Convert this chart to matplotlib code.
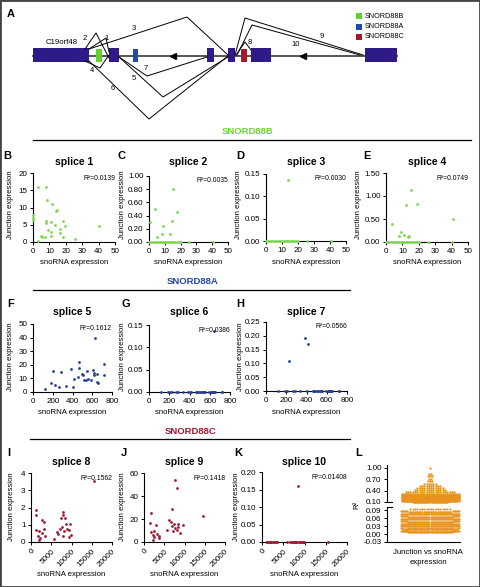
import matplotlib
matplotlib.use('Agg')
import matplotlib.pyplot as plt
from matplotlib.patches import Rectangle
import numpy as np

plt.rcParams['font.family'] = ['Liberation Sans', 'DejaVu Sans']
NARROW = ['Liberation Sans Narrow', 'Liberation Sans', 'DejaVu Sans']

W, H = 480, 587

# ---- panel A: gene model (figure pixel units) ----
exons = [(33, 89), (109, 119), (207, 214), (228, 235), (251, 271), (365, 397)]
exon_top, exon_bot = 48, 62
intron_y = 56
strand_arrows = [173, 303]
sno_names = ['SNORD88B', 'SNORD88A', 'SNORD88C']
sno_colors = ['#62d12b', '#1d4ab5', '#a3182c']
sno_spans = [(96, 102), (133, 138), (241, 247)]
junction_paths = [
    [(89, 49), (106, 38), (109, 52)],
    [(85, 49), (96, 33), (109, 58)],
    [(89, 49), (187, 17), (228, 55)],
    [(85, 61), (100, 68), (109, 55)],
    [(119, 57), (163, 97), (228, 57)],
    [(89, 61), (149, 119), (228, 56)],
    [(119, 57), (147, 76), (207, 57)],
    [(236, 55), (245, 42), (251, 50)],
    [(235, 55), (245, 18), (363, 55)],
    [(237, 55), (252, 25), (360, 55)],
]
junction_labels = ['1', '2', '3', '4', '5', '6', '7', '8', '9', '10']
junction_label_xy = [(107, 38), (85, 39), (134, 29), (92, 71), (134, 78),
                     (113, 88), (146, 68), (250, 43), (322, 37), (296, 44)]

# ---- SNORD88B (splice 1-4) ----
b_x = [0, 0, 0, 3.2, 8.2, 8.8, 11.6, 14.3, 14.7, 8.2, 8.2, 10.8, 13.3, 16.5,
       18.4, 19.4, 9.2, 10.8, 16.3, 4.7, 5.5, 7.6, 10.8, 18.2, 3.2, 25.5, 40.5]
b_y = [7.8, 7.0, 6.5, 16.0, 15.8, 12.2, 11.0, 8.9, 9.2, 6.2, 5.6, 5.9, 4.8, 3.8,
       6.1, 4.6, 3.4, 3.0, 2.6, 1.8, 1.5, 1.5, 1.6, 1.5, 0.3, 1.0, 4.6]
zero_x_88b = [0, 1.5, 3, 4.5, 5.5, 7, 8, 9, 10, 11, 12, 13, 14, 15, 16, 17.5,
              19, 20, 25.5, 40.5]
c_x = [0.6, 3.8, 4.9, 8.4, 9.0, 13.3, 14.3, 15.0, 18.0]
c_y = [0.30, 0.50, 0.08, 0.12, 0.24, 0.12, 0.32, 0.81, 0.46]
d_x = [14.0]
d_y = [0.137]
e_x = [3.5, 15.0, 12.0, 18.7, 40.7, 9.2, 8.1, 11.2, 13.6, 14.2]
e_y = [0.40, 1.12, 0.80, 0.83, 0.50, 0.22, 0.14, 0.15, 0.10, 0.13]

# ---- SNORD88A (splice 5-7) ----
snord88a_expr = [122, 183, 223, 206, 264, 284, 331, 382, 409, 416, 460, 470, 470,
                 493, 510, 517, 537, 544, 554, 588, 611, 621, 628, 645, 645, 655,
                 719, 719, 618]
splice5 = [2.2, 6.6, 5.4, 15.7, 3.4, 14.5, 4.2, 17.0, 3.7, 9.5, 11.0, 22.0, 17.6,
           13.2, 12.7, 9.0, 8.6, 15.7, 9.5, 8.6, 16.4, 12.7, 39.7, 13.2, 7.4, 6.6,
           12.3, 20.8, 14.2]
splice6 = [0, 0, 0, 0, 0, 0, 0, 0, 0, 0, 0, 0, 0, 0, 0, 0, 0, 0, 0, 0, 0, 0, 0,
           0.137, 0, 0, 0, 0, 0]
splice7 = [0, 0, 0.110, 0, 0, 0, 0, 0.192, 0, 0.170, 0, 0, 0, 0, 0, 0, 0, 0, 0, 0,
           0, 0, 0, 0, 0, 0, 0, 0, 0]

# ---- SNORD88C (splice 8-10) ----
snord88c_expr = [1240, 1160, 1240, 2070, 1650, 2230, 2640, 2810, 3310, 3310, 3470,
                 1980, 5790, 6530, 6780, 7190, 7360, 7600, 7850, 8020, 8020, 8430,
                 8600, 8840, 9260, 9420, 9670, 9840, 8180, 15450]
splice8 = [1.87, 1.55, 0.68, 0.66, 0.33, 0.23, 1.29, 0.52, 1.14, 0.75, 0.33, 0.10,
           0.19, 0.56, 0.48, 0.75, 1.39, 0.87, 1.72, 1.58, 0.37, 1.39, 1.04, 0.75,
           0.71, 0.27, 1.04, 0.43, 0.62, 3.52]
splice10 = [0] * 21 + [0.16] + [0] * 8
j_x = [1650, 1480, 1650, 2140, 2550, 2470, 2960, 3290, 3700, 3790, 2300, 5600, 6260,
       6670, 6830, 7000, 7080, 7410, 7650, 7650, 8230, 8310, 8480, 8890, 8070, 9550,
       14650]
j_y = [25.2, 16.5, 8.4, 6.4, 9.3, 4.1, 15.1, 7.2, 4.9, 3.5, 2.0, 10.7, 19.4, 17.1,
       29.0, 13.6, 9.3, 15.9, 12.2, 53.6, 47.0, 15.9, 13.0, 7.8, 10.7, 15.1, 22.9]

r2_values = ['0.0139', '0.0035', '0.0030', '0.0749', '0.1612', '0.0386', '0.0566',
             '0.1562', '0.1418', '0.01408']

# ---- panel L: R^2 of all junction vs snoRNA pairs, as stacked rows ----
upper_vals = [1.00, 0.83, 0.77, 0.71, 0.64, 0.58, 0.53, 0.47, 0.42, 0.36, 0.31,
              0.285, 0.26, 0.235, 0.21, 0.185, 0.16, 0.135, 0.11]
upper_counts = [1, 2, 3, 2, 3, 6, 10, 12, 14, 22, 30, 38, 42, 45, 48, 50, 52, 54, 56]
lower_vals = [0.096, 0.085, 0.076, 0.066, 0.057, 0.047, 0.038, 0.029, 0.020, 0.009]
lower_counts = [18, 55, 58, 58, 58, 58, 58, 58, 78, 80]

green, blue, red, orange = '#7fd650', '#263f8f', '#9c1c34', '#e8931e'

fig = plt.figure(figsize=(4.8, 5.87), dpi=100)


def fx(x):
    return x / W


def fy(y):
    return 1 - y / H


def px_axes(l, t, r, b):
    return fig.add_axes([l / W, 1 - b / H, (r - l) / W, (b - t) / H])


# background axes in pixel units for the diagram, headers and rules
bg = fig.add_axes([0, 0, 1, 1])
bg.set_xlim(0, W)
bg.set_ylim(H, 0)
bg.axis('off')

bg.plot([exons[0][0], exons[-1][1]], [intron_y, intron_y], color='#555555', lw=1.4, zorder=1)
bg.plot(strand_arrows, [intron_y] * len(strand_arrows), ls='none', marker='<',
        ms=4, color='black', zorder=2)
for path in junction_paths:
    xs, ys = zip(*path)
    bg.plot(xs, ys, color='black', lw=0.7, zorder=4)
for (x0, x1) in exons:
    bg.add_patch(Rectangle((x0, exon_top), x1 - x0, exon_bot - exon_top,
                           facecolor='#2e1a88', edgecolor='none', zorder=3))
for (x0, x1), col in zip(sno_spans, sno_colors):
    bg.add_patch(Rectangle((x0, exon_top + 1), x1 - x0, exon_bot - exon_top - 1,
                           facecolor=col, edgecolor='none', zorder=3))
for lab, (x, y) in zip(junction_labels, junction_label_xy):
    bg.text(x, y, lab, fontsize=5.5, ha='center', va='center', zorder=5)
bg.text(46, 43, 'C19orf48', fontsize=5.6, ha='left', va='center')
for i, (name, col) in enumerate(zip(sno_names, sno_colors)):
    y = 16 + i * 10.5
    bg.add_patch(Rectangle((356, y - 3), 6, 6, facecolor=col, edgecolor='none'))
    bg.text(365, y, name, fontsize=5.2, ha='left', va='center')
bg.text(7, 14, 'A', fontsize=8, fontweight='bold', ha='left', va='center')

# section headers
headers = [('SNORD88B', '#6ad43c', 247, 132, 33, 471, 140),
           ('SNORD88A', '#2347a8', 193, 282, 33, 350, 290),
           ('SNORD88C', '#a3182c', 191, 431, 30, 350, 439)]
for name, col, tx, ty, l0, l1, ly in headers:
    bg.text(tx, ty, name, color=col, fontsize=6.8, fontweight='bold',
            ha='center', va='center')
    bg.plot([l0, l1], [ly, ly], color='black', lw=0.9)

# panel letters
letters = [('B', 3, 156), ('C', 118, 156), ('D', 236, 156), ('E', 363, 156),
           ('F', 7, 304), ('G', 121, 304), ('H', 236, 304),
           ('I', 7, 453), ('J', 121, 453), ('K', 234, 453), ('L', 355, 453)]
for t, x, y in letters:
    bg.text(x, y, t, fontsize=8, fontweight='bold', ha='left', va='center')


def scatter_panel(box, series, color, xlim, xticks, xlabs, ylim, yticks, ylabs,
                  title, r2, title_y, ylab_x, ylab_y, xlab_y, rotate=False):
    l, t, r, b = box
    ax = px_axes(l, t, r, b)
    for xs, ys in series:
        ax.scatter(xs, ys, s=4, c=color, linewidths=0, clip_on=False, zorder=3)
    ax.set_xlim(xlim)
    ax.set_ylim(ylim)
    ax.set_xticks(xticks)
    if rotate:
        ax.set_xticklabels(xlabs, rotation=45, ha='right', rotation_mode='anchor')
    else:
        ax.set_xticklabels(xlabs)
    ax.set_yticks(yticks)
    ax.set_yticklabels(ylabs)
    ax.spines[['top', 'right']].set_visible(False)
    ax.spines[['left', 'bottom']].set_linewidth(0.8)
    ax.tick_params(length=2.5, width=0.7, labelsize=5.8, pad=1.5)
    ax.patch.set_alpha(0)
    cx = (l + r) / 2
    fig.text(fx(cx), fy(title_y), title, fontsize=7.5, fontweight='bold',
             ha='center', va='center')
    ax.text(1.0, 1 - 5 / (b - t), 'R²=' + r2, transform=ax.transAxes, ha='right',
            va='center', fontsize=4.9, family=NARROW)
    fig.text(fx(ylab_x), fy(ylab_y), 'Junction expression', rotation=90,
             fontsize=5.6, family=NARROW, ha='center', va='center')
    fig.text(fx(cx), fy(xlab_y), 'snoRNA expression', fontsize=5.6, family=NARROW,
             ha='center', va='center')
    return ax


x50 = [0, 10, 20, 30, 40, 50]
x50l = [str(v) for v in x50]
x800 = [0, 200, 400, 600, 800]
x800l = [str(v) for v in x800]
x20k = [0, 5000, 10000, 15000, 20000]
x20kl = [str(v) for v in x20k]

zeros_b = [0] * len(zero_x_88b)

# row 1
scatter_panel((33, 173, 115, 242), [(b_x, b_y)], green, (0, 50), x50, x50l,
              (0, 20), [0, 5, 10, 15, 20], ['0', '5', '10', '15', '20'],
              'splice 1', r2_values[0], 162, 11, 205, 263)
scatter_panel((149, 176, 228, 242), [(zero_x_88b, zeros_b), (c_x, c_y)], green,
              (0, 50), x50, x50l, (0, 1.0), [0, 0.2, 0.4, 0.6, 0.8, 1.0],
              ['0.00', '0.20', '0.40', '0.60', '0.80', '1.00'],
              'splice 2', r2_values[1], 162, 122, 205, 263)
scatter_panel((266, 174, 346, 241), [(zero_x_88b, zeros_b), (d_x, d_y)], green,
              (0, 50), x50, x50l, (0, 0.15), [0, 0.05, 0.10, 0.15],
              ['0.00', '0.05', '0.10', '0.15'],
              'splice 3', r2_values[2], 162, 239, 205, 263)
scatter_panel((386, 173, 468, 242), [(zero_x_88b, zeros_b), (e_x, e_y)], green,
              (0, 50), x50, x50l, (0, 1.5), [0, 0.5, 1.0, 1.5],
              ['0.00', '0.50', '1.00', '1.50'],
              'splice 4', r2_values[3], 162, 359, 205, 263)

# row 2
scatter_panel((33, 324, 112, 392), [(snord88a_expr, splice5)], blue, (0, 800), x800,
              x800l, (0, 50), [0, 10, 20, 30, 40, 50],
              ['0', '10', '20', '30', '40', '50'],
              'splice 5', r2_values[4], 312, 11, 357, 413)
scatter_panel((149, 325, 230, 392), [(snord88a_expr, splice6)], blue, (0, 800), x800,
              x800l, (0, 0.15), [0, 0.05, 0.10, 0.15],
              ['0.00', '0.05', '0.10', '0.15'],
              'splice 6', r2_values[5], 312, 122, 357, 413)
scatter_panel((266, 322, 347, 391), [(snord88a_expr, splice7)], blue, (0, 800), x800,
              x800l, (0, 0.25), [0, 0.05, 0.10, 0.15, 0.20, 0.25],
              ['0.00', '0.05', '0.10', '0.15', '0.20', '0.25'],
              'splice 7', r2_values[6], 312, 240, 357, 413)

# row 3
scatter_panel((31, 473, 112, 542), [(snord88c_expr, splice8)], red, (0, 20000), x20k,
              x20kl, (0, 4), [0, 1, 2, 3, 4], ['0', '1', '2', '3', '4'],
              'splice 8', r2_values[7], 462, 12, 507, 575, rotate=True)
scatter_panel((144, 473, 225, 542), [(j_x, j_y)], red, (0, 20000), x20k, x20kl,
              (0, 60), [0, 20, 40, 60], ['0', '20', '40', '60'],
              'splice 9', r2_values[8], 462, 122, 507, 575, rotate=True)
scatter_panel((262, 472, 347, 542), [(snord88c_expr, splice10)], red, (0, 20000),
              x20k, x20kl, (0, 0.20), [0, 0.05, 0.10, 0.15, 0.20],
              ['0.00', '0.05', '0.10', '0.15', '0.20'],
              'splice 10', r2_values[9], 462, 236, 507, 575, rotate=True)


# panel L: broken y axis dot plot; each row spreads its dots up to a maximum
# width, the overflow wraps onto a narrower sub-row just above
def stacked_rows(vals, counts, per_row, max_w, dx_max, dy, curve):
    xs, ys = [], []
    for v, n in zip(vals, counts):
        k = 0
        while n > 0:
            m = min(n, per_row)
            dx = dx_max if m < 2 else min(dx_max, max_w / (m - 1))
            offs = (np.arange(m) - (m - 1) / 2) * dx
            xs.extend(offs)
            ys.extend(v + k * dy + curve * (offs / (max_w / 2)) ** 2)
            n -= m
            k += 1
    return xs, ys


axu = px_axes(387, 465, 460, 502)
axl = px_axes(387, 507, 460, 542)
ux, uy = stacked_rows(upper_vals, upper_counts, 60, 57, 2.3, 0.02, 0.008)
lx, ly = stacked_rows(lower_vals, lower_counts, 58, 58, 2.3, 0.0022, 0.0015)
axu.scatter(ux, uy, s=2.8, c=orange, linewidths=0, clip_on=False)
axl.scatter(lx, ly, s=2.4, c=orange, linewidths=0, clip_on=False)
for ax in (axu, axl):
    ax.set_xlim(-43, 30)
    ax.set_xticks([])
    ax.spines[['top', 'right']].set_visible(False)
    ax.spines[['left', 'bottom']].set_linewidth(0.8)
    ax.tick_params(length=2.5, width=0.7, labelsize=5.8, pad=1.5)
    ax.patch.set_alpha(0)
axu.spines['bottom'].set_visible(False)
axu.set_ylim(0.10, 1.07)
axu.set_yticks([0.10, 0.40, 0.70, 1.00])
axu.set_yticklabels(['0.10', '0.40', '0.70', '1.00'])
axl.set_ylim(-0.03, 0.103)
axl.set_yticks([-0.03, 0.0, 0.03, 0.06, 0.09])
axl.set_yticklabels(['-0.03', '0.00', '0.03', '0.06', '0.09'])
axu.plot([0, 0.07], [0, 0], transform=axu.transAxes, color='black', lw=0.8, clip_on=False)
axl.plot([0, 0.07], [1, 1], transform=axl.transAxes, color='black', lw=0.8, clip_on=False)
fig.text(fx(357), fy(505), 'R²', rotation=90, fontsize=5.6, family=NARROW,
         ha='center', va='center')
fig.text(fx(428), fy(558), 'Junction vs snoRNA\nexpression', fontsize=5.6,
         family=NARROW, ha='center', va='center', linespacing=1.6)

# outer frame
fig.patches.append(Rectangle((0, 0), 1, 1, transform=fig.transFigure, fill=False,
                             edgecolor='#444444', lw=2))

fig.savefig('out.png', dpi=100)
